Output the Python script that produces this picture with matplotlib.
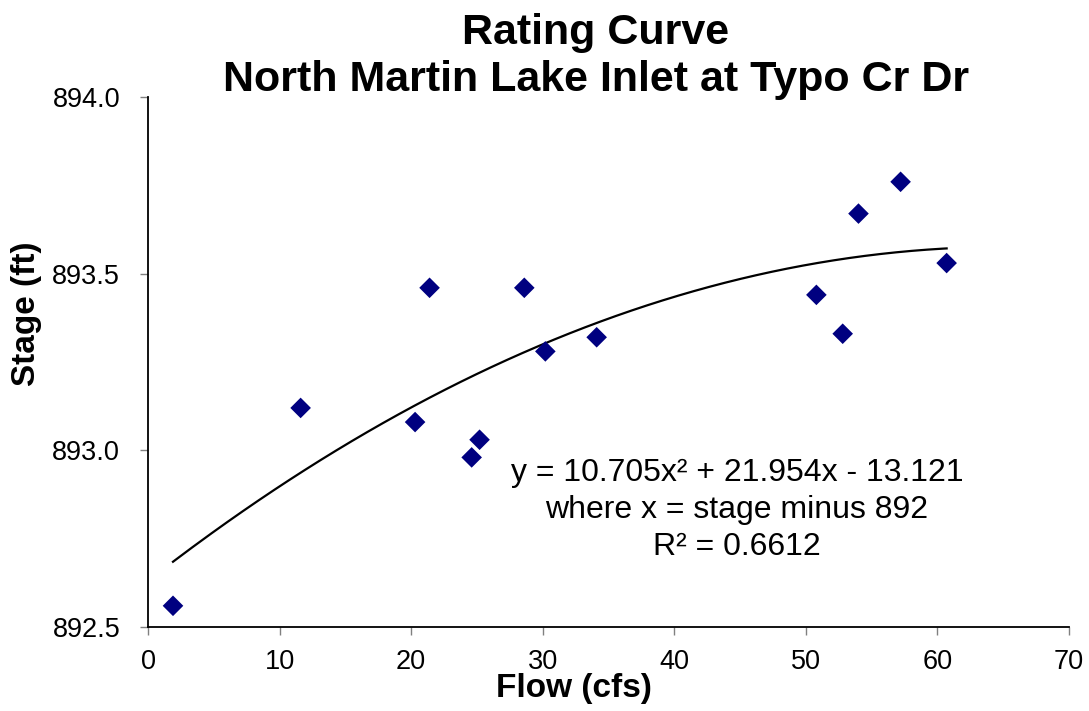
import numpy as np
import matplotlib.pyplot as plt

plt.rcParams['font.family'] = ['Liberation Sans', 'DejaVu Sans']

# measured flow (cfs) and stage (ft)
flow = [1.9, 11.6, 20.3, 21.4, 24.6, 25.2, 28.6, 30.2, 34.1, 50.8, 52.8, 54.0, 57.2, 60.7]
stage = [892.56, 893.12, 893.08, 893.46, 892.98, 893.03, 893.46, 893.28, 893.32,
         893.44, 893.33, 893.67, 893.76, 893.53]

xticks = [0, 10, 20, 30, 40, 50, 60, 70]
yticks = [892.5, 893.0, 893.5, 894.0]

fig = plt.figure(figsize=(10.89, 7.11), dpi=100)
ax = fig.add_axes([148 / 1089, 1 - 627 / 711, (1069 - 148) / 1089, (627 - 97) / 711])

# second order trendline of stage on flow
coef = np.polyfit(flow, stage, 2)
xs = np.linspace(min(flow), max(flow), 200)
ax.plot(xs, np.polyval(coef, xs), color='black', lw=1.6, zorder=2)

ax.scatter(flow, stage, marker='D', s=110, color='#000080', edgecolors='none', zorder=3)

ax.set_xlim(0, 70)
ax.set_ylim(892.5, 894.0)
ax.set_xticks(xticks)
ax.set_yticks(yticks)
ax.set_yticklabels(['%.1f' % v for v in yticks])
for s in ['top', 'right']:
    ax.spines[s].set_visible(False)
for s in ['left', 'bottom']:
    ax.spines[s].set_linewidth(1.3)
ax.tick_params(direction='out', length=6, width=1, color='#808080', labelsize=19.5)
ax.tick_params(axis='y', pad=14)
ax.tick_params(axis='x', pad=10)

ax.set_xlabel('Flow (cfs)', fontsize=24, fontweight='bold', va='center')
ax.xaxis.set_label_coords((574 - 148) / 921, -(689 - 627) / 530)
ax.set_ylabel('Stage (ft)', fontsize=24, fontweight='bold', va='center')
ax.yaxis.set_label_coords(-(148 - 26) / 921, (627 - 314) / 530)

title_x = 596 / 1089
fig.text(title_x, 1 - 33 / 711, 'Rating Curve', ha='center', va='center',
         fontsize=31, fontweight='bold')
fig.text(title_x, 1 - 80 / 711, 'North Martin Lake Inlet at Typo Cr Dr', ha='center',
         va='center', fontsize=31, fontweight='bold')

ax.text((737 - 148) / 921, (627 - 510) / 530,
        'y = 10.705x² + 21.954x - 13.121\nwhere x = stage minus 892\nR² = 0.6612',
        transform=ax.transAxes, ha='center', va='center', fontsize=23, linespacing=1.3)

fig.savefig('out.png', dpi=100)
